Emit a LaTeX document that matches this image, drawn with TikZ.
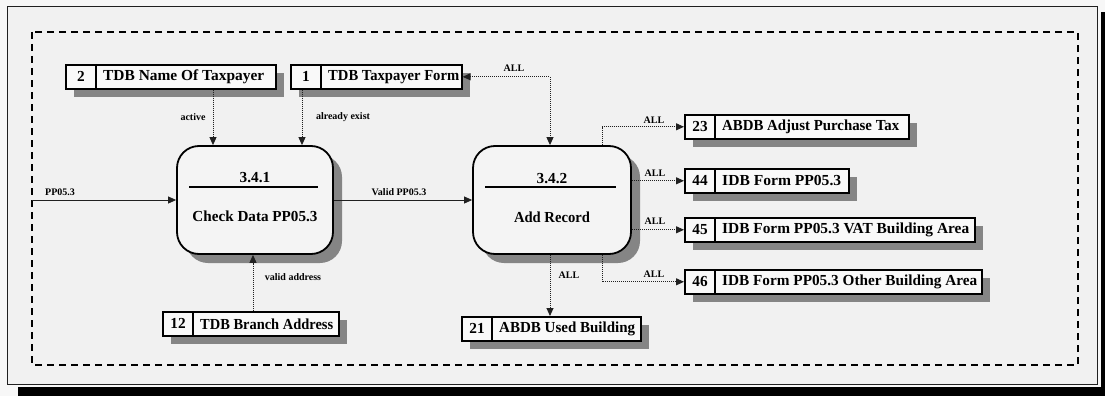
\documentclass[tikz,border=0pt]{standalone}
\usepackage{graphicx}
\usepackage{fontspec}
\setmainfont{Liberation Serif}
\usetikzlibrary{arrows.meta,shadows,calc}
\definecolor{bgc}{HTML}{F7F7F7}
\definecolor{framefill}{HTML}{F1F1F1}
\definecolor{shadowc}{HTML}{858585}
\definecolor{boxfill}{HTML}{F9F9F9}
\definecolor{procfill}{HTML}{F4F4F4}
\definecolor{linec}{HTML}{202020}
\tikzset{
  storebox/.style={draw=black, line width=1.6pt, fill=boxfill, minimum height=24pt, inner sep=0pt,
    drop shadow={shadow xshift=8pt, shadow yshift=-8pt, fill=shadowc, opacity=1}},
  boxline/.style={draw=black, line width=1.4pt},
  storetxt/.style={font=\fontsize{15.3}{17}\selectfont\bfseries, inner sep=0pt},
  proc/.style={draw=black, line width=1.8pt, fill=procfill, rounded corners=22pt, inner sep=0pt,
    drop shadow={shadow xshift=9pt, shadow yshift=-9pt, fill=shadowc, opacity=1}},
  proctxt/.style={font=\fontsize{15.3}{17}\selectfont\bfseries, inner sep=0pt},
  lbl/.style={font=\fontsize{10}{11}\selectfont\bfseries, inner sep=0pt},
  flow/.style={draw=linec, line width=0.8pt, -{Triangle[length=8pt,width=7pt]}},
  dflow/.style={draw=linec, line width=0.9pt, dash pattern=on 1pt off 1pt, -{Triangle[length=8pt,width=7pt]}},
  dashbox/.style={draw=black, line width=1.8pt, dash pattern=on 7pt off 5pt},
}
% name, left, top, right, number, label, label width
\newcommand\dstore[7]{%
  \node[storebox, minimum width={(#4-#2)*1pt}, anchor=north west] (#1) at (#2,#3) {};
  \draw[boxline] ($(#1.north west)+(31pt,0)$) -- ($(#1.south west)+(31pt,0)$);
  \node[storetxt] (#1n) at ($(#1.west)+(16pt,0)$) {#5};
  \node[storetxt, anchor=west] (#1l) at ($(#1.west)+(38pt,0)$) {\resizebox{#7pt}{\height}{#6}};
}
\begin{document}
\begin{tikzpicture}[x=1pt, y=-1pt]
\useasboundingbox (0,0) rectangle (1105,396);
\fill[bgc] (0,0) rectangle (1105,396);
\fill[black] (18,387) rectangle (1105,396);
\fill[black] (1101,12) rectangle (1105,396);
\draw[draw=linec, line width=1pt, fill=framefill] (7,7) rectangle (1097,384);
\draw[dashbox] (32,32) rectangle (1078,365);

% data stores
\dstore{s2}{65}{64}{275}{2}{TDB Name Of Taxpayer}{161}
\dstore{s1}{290}{64}{461}{1}{TDB Taxpayer Form}{131}
\dstore{s23}{684}{114}{908}{23}{ABDB Adjust Purchase Tax}{177}
\dstore{s44}{684}{168}{848}{44}{IDB Form PP05.3}{119}
\dstore{s45}{684}{217}{974}{45}{IDB Form PP05.3 VAT Building Area}{247}
\dstore{s46}{684}{269}{981}{46}{IDB Form PP05.3 Other Building Area}{255}
\dstore{s21}{461}{316}{640}{21}{ABDB Used Building}{136}
\dstore{s12}{162}{311}{338}{12}{TDB Branch Address}{133}

% processes
\node[proc, minimum width=156pt, minimum height=108pt] (p1) at (255,200) {};
\draw[boxline, line width=1.8pt] ($(p1.north west)+(13pt,-42pt)$) -- ($(p1.north east)+(-16pt,-42pt)$);
\node[proctxt] (p1t) at ($(p1.north)+(0,-32pt)$) {3.4.1};
\node[proctxt] (p1n) at ($(p1.north)+(0,-71pt)$) {\resizebox{125pt}{\height}{Check Data PP05.3}};

\node[proc, minimum width=158pt, minimum height=108pt] (p2) at (552,200) {};
\draw[boxline, line width=1.8pt] ($(p2.north west)+(13pt,-42pt)$) -- ($(p2.north east)+(-16pt,-42pt)$);
\node[proctxt] (p2t) at ($(p2.north)+(0,-33pt)$) {3.4.2};
\node[proctxt] (p2n) at ($(p2.north)+(0,-72pt)$) {\resizebox{76pt}{\height}{Add Record}};

% helper coordinates
\coordinate (pin) at (32,200);
\coordinate (xa) at (213,0);
\coordinate (xb) at (302,0);
\coordinate (xv) at (253,0);
\coordinate (xc) at (550,0);
\coordinate (xd) at (602,0);

% flows
\draw[flow] (pin) -- (p1.west);
\draw[flow] (p1.east) -- (p2.west);
\draw[dflow] (s2.south -| xa) -- (p1.north -| xa);
\draw[dflow] (s1.south -| xb) -- (p1.north -| xb);
\draw[dflow] (s12.north -| xv) -- (p1.south -| xv);
\draw[dflow, {Triangle[length=8pt,width=7pt]}-{Triangle[length=8pt,width=7pt]}] (s1.east) -| (p2.north -| xc);
\draw[dflow] (p2.north -| xd) |- (s23.west);
\draw[dflow] (p2.east |- s44.west) -- (s44.west);
\draw[dflow] (p2.east |- s45.west) -- (s45.west);
\draw[dflow] (p2.south -| xd) |- (s46.west);
\draw[dflow] (p2.south -| xc) -- (s21.north -| xc);

% labels
\node[lbl] (l1) at (60,192) {PP05.3};
\node[lbl] (l2) at (399,192) {Valid PP05.3};
\node[lbl] (l3) at (193,117) {active};
\node[lbl] (l4) at (343,117) {already exist};
\node[lbl] (l5) at (293,277) {valid address};
\node[lbl] (l6) at (514,68) {ALL};
\node[lbl] (l7) at (654,120) {ALL};
\node[lbl] (l8) at (655,173) {ALL};
\node[lbl] (l9) at (655,221) {ALL};
\node[lbl] (l10) at (654,274) {ALL};
\node[lbl] (l11) at (569,275) {ALL};
\end{tikzpicture}
\end{document}
